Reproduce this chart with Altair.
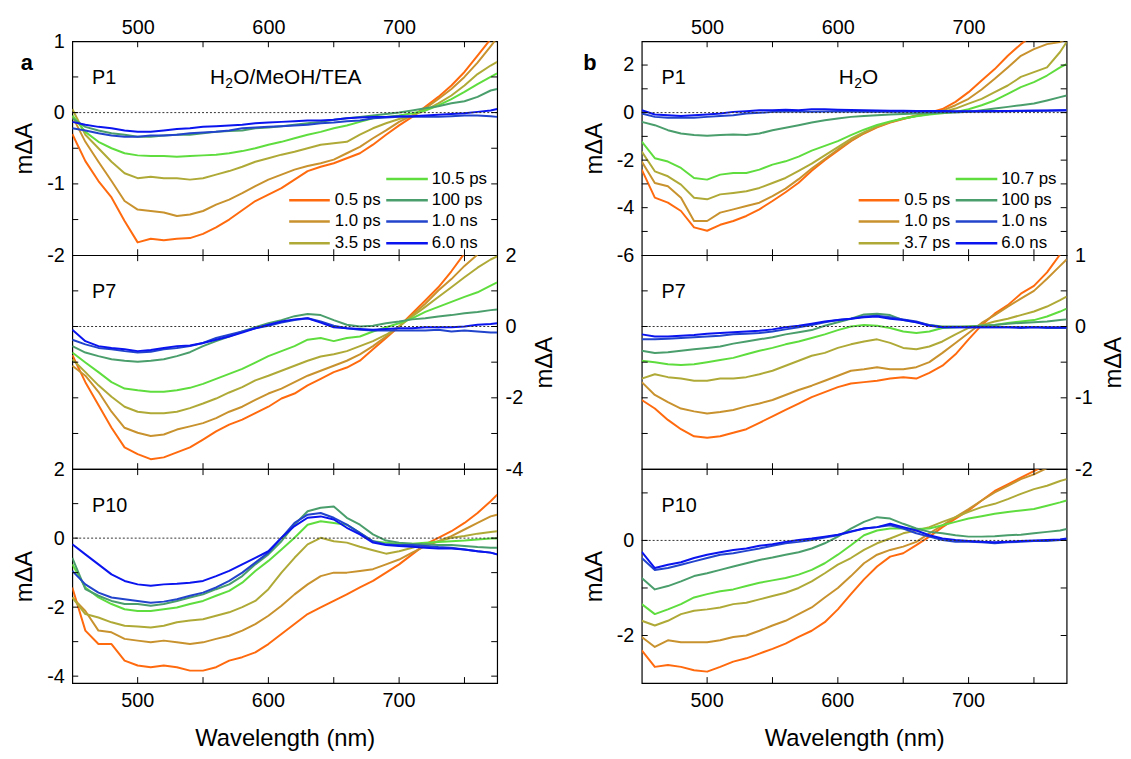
import altair as alt
import pandas as pd

FONT = "Liberation Sans"

# ---------------- data ----------------
WL = [450, 460, 470, 480, 490, 500, 510, 520, 530, 540, 550, 560, 570, 580, 590,
      600, 610, 620, 630, 640, 650, 660, 670, 680, 690, 700, 710, 720, 730, 740,
      750, 760, 770, 775]

LABELS_A = ["0.5 ps", "1.0 ps", "3.5 ps", "10.5 ps", "100 ps", "1.0 ns", "6.0 ns"]
LABELS_B = ["0.5 ps", "1.0 ps", "3.7 ps", "10.7 ps", "100 ps", "1.0 ns", "6.0 ns"]
COLORS = ["#FF6A0E", "#C8922E", "#AFAA37", "#5FDD3F", "#4A9E6C", "#2244CC", "#0A14EE"]

# panel a, P1 (H2O/MeOH/TEA)
A_P1 = [
    [-0.30, -0.68, -0.96, -1.19, -1.52, -1.82, -1.77, -1.79, -1.77, -1.76, -1.70, -1.61, -1.50, -1.37, -1.24,
     -1.15, -1.06, -0.94, -0.82, -0.76, -0.71, -0.64, -0.57, -0.45, -0.31, -0.18, -0.06, 0.08, 0.22, 0.38,
     0.57, 0.80, 1.03, 1.12],
    [-0.05, -0.41, -0.69, -0.96, -1.24, -1.36, -1.38, -1.40, -1.45, -1.43, -1.38, -1.29, -1.22, -1.13, -1.03,
     -0.94, -0.87, -0.80, -0.75, -0.71, -0.66, -0.57, -0.48, -0.36, -0.25, -0.13, -0.04, 0.06, 0.19, 0.33,
     0.50, 0.70, 0.93, 1.05],
    [0.05, -0.31, -0.50, -0.69, -0.85, -0.92, -0.90, -0.92, -0.92, -0.94, -0.92, -0.87, -0.82, -0.76, -0.69,
     -0.64, -0.59, -0.55, -0.50, -0.45, -0.43, -0.41, -0.31, -0.22, -0.15, -0.09, -0.04, 0.03, 0.13, 0.24,
     0.38, 0.54, 0.66, 0.71],
    [-0.04, -0.27, -0.41, -0.50, -0.57, -0.60, -0.61, -0.61, -0.62, -0.61, -0.60, -0.59, -0.57, -0.54, -0.50,
     -0.45, -0.41, -0.36, -0.31, -0.27, -0.22, -0.18, -0.13, -0.08, -0.06, -0.04, -0.01, 0.03, 0.10, 0.19,
     0.29, 0.40, 0.50, 0.55],
    [-0.08, -0.20, -0.25, -0.29, -0.31, -0.34, -0.34, -0.32, -0.31, -0.31, -0.29, -0.27, -0.26, -0.25, -0.22,
     -0.21, -0.19, -0.17, -0.15, -0.13, -0.10, -0.08, -0.06, -0.04, -0.02, 0.00, 0.03, 0.06, 0.09, 0.13,
     0.16, 0.22, 0.31, 0.33],
    [-0.22, -0.25, -0.29, -0.32, -0.34, -0.34, -0.32, -0.32, -0.31, -0.29, -0.28, -0.27, -0.25, -0.22, -0.21,
     -0.20, -0.19, -0.18, -0.17, -0.15, -0.14, -0.12, -0.11, -0.08, -0.07, -0.06, -0.06, -0.06, -0.06, -0.05,
     -0.04, -0.04, -0.05, -0.06],
    [-0.13, -0.17, -0.20, -0.22, -0.25, -0.27, -0.27, -0.25, -0.23, -0.22, -0.20, -0.19, -0.18, -0.17, -0.15,
     -0.14, -0.13, -0.12, -0.11, -0.11, -0.10, -0.08, -0.07, -0.06, -0.06, -0.05, -0.05, -0.04, -0.03, -0.02,
     -0.01, 0.01, 0.03, 0.05],
]

# panel a, P7
A_P7 = [
    [-0.80, -1.56, -2.20, -2.84, -3.39, -3.58, -3.72, -3.67, -3.53, -3.39, -3.17, -2.94, -2.75, -2.61, -2.43,
     -2.25, -2.02, -1.88, -1.65, -1.47, -1.28, -1.15, -0.96, -0.64, -0.32, 0.00, 0.37, 0.73, 1.10, 1.55,
     2.05, 2.40, 2.75, 2.90],
    [-1.10, -1.38, -1.83, -2.39, -2.84, -2.98, -3.07, -3.03, -2.89, -2.80, -2.71, -2.57, -2.39, -2.25, -2.06,
     -1.88, -1.74, -1.56, -1.38, -1.24, -1.10, -0.96, -0.78, -0.55, -0.28, 0.00, 0.32, 0.64, 1.01, 1.33,
     1.70, 2.02, 2.35, 2.50],
    [-0.92, -1.28, -1.65, -1.97, -2.25, -2.39, -2.43, -2.43, -2.39, -2.29, -2.16, -2.02, -1.85, -1.70, -1.51,
     -1.38, -1.24, -1.10, -0.96, -0.84, -0.78, -0.69, -0.55, -0.41, -0.23, 0.00, 0.28, 0.55, 0.83, 1.10,
     1.38, 1.65, 1.88, 1.97],
    [-0.73, -1.01, -1.28, -1.56, -1.74, -1.79, -1.83, -1.83, -1.79, -1.72, -1.61, -1.47, -1.33, -1.19, -1.01,
     -0.83, -0.69, -0.55, -0.37, -0.32, -0.41, -0.32, -0.28, -0.14, -0.02, 0.09, 0.23, 0.41, 0.55, 0.69,
     0.83, 0.96, 1.15, 1.24],
    [-0.55, -0.73, -0.83, -0.92, -0.96, -0.99, -0.96, -0.92, -0.83, -0.72, -0.55, -0.41, -0.28, -0.14, -0.02,
     0.09, 0.18, 0.29, 0.35, 0.32, 0.18, 0.05, 0.00, 0.02, 0.09, 0.14, 0.20, 0.23, 0.28, 0.32,
     0.37, 0.41, 0.46, 0.48],
    [-0.37, -0.50, -0.60, -0.64, -0.69, -0.73, -0.71, -0.64, -0.60, -0.55, -0.46, -0.32, -0.23, -0.14, -0.05,
     0.02, 0.11, 0.18, 0.23, 0.14, 0.02, -0.05, -0.09, -0.11, -0.11, -0.11, -0.11, -0.11, -0.09, -0.14,
     -0.11, -0.14, -0.17, -0.17],
    [-0.09, -0.41, -0.55, -0.60, -0.64, -0.69, -0.66, -0.60, -0.55, -0.53, -0.46, -0.37, -0.28, -0.17, -0.05,
     0.05, 0.14, 0.20, 0.23, 0.11, -0.02, -0.05, -0.07, -0.09, -0.07, -0.05, -0.05, -0.02, -0.02, -0.02,
     0.00, 0.05, 0.07, 0.09],
]

# panel a, P10
A_P10 = [
    [-1.43, -2.68, -3.07, -3.07, -3.55, -3.69, -3.74, -3.69, -3.74, -3.84, -3.84, -3.74, -3.55, -3.45, -3.31,
     -3.07, -2.78, -2.49, -2.20, -2.01, -1.82, -1.63, -1.43, -1.24, -1.00, -0.76, -0.47, -0.18, 0.01, 0.20,
     0.44, 0.73, 1.07, 1.26],
    [-1.72, -2.11, -2.68, -2.73, -2.92, -2.97, -3.02, -2.97, -3.02, -3.07, -3.02, -2.92, -2.83, -2.68, -2.49,
     -2.25, -1.96, -1.63, -1.34, -1.10, -1.00, -1.00, -0.95, -0.90, -0.76, -0.62, -0.42, -0.23, -0.09, 0.06,
     0.25, 0.44, 0.63, 0.68],
    [-1.72, -2.20, -2.30, -2.44, -2.54, -2.56, -2.59, -2.54, -2.44, -2.39, -2.35, -2.25, -2.15, -2.00, -1.82,
     -1.48, -1.00, -0.57, -0.18, 0.01, -0.09, -0.13, -0.25, -0.35, -0.45, -0.38, -0.28, -0.18, -0.09, 0.01,
     0.06, 0.13, 0.18, 0.20],
    [-0.76, -1.43, -1.72, -1.91, -2.06, -2.11, -2.11, -2.06, -2.01, -1.91, -1.82, -1.67, -1.53, -1.29, -0.95,
     -0.66, -0.33, 0.01, 0.39, 0.49, 0.44, 0.39, 0.15, -0.09, -0.13, -0.16, -0.16, -0.13, -0.11, -0.09,
     -0.07, -0.04, -0.01, -0.01],
    [-0.57, -1.48, -1.67, -1.82, -1.91, -1.91, -1.96, -1.91, -1.82, -1.72, -1.63, -1.48, -1.34, -1.10, -0.76,
     -0.47, -0.09, 0.39, 0.78, 0.88, 0.92, 0.59, 0.39, 0.11, -0.07, -0.13, -0.16, -0.18, -0.20, -0.20,
     -0.23, -0.26, -0.28, -0.28],
    [-0.95, -1.34, -1.58, -1.72, -1.77, -1.82, -1.87, -1.84, -1.77, -1.67, -1.58, -1.43, -1.24, -1.00, -0.71,
     -0.42, 0.01, 0.44, 0.68, 0.73, 0.59, 0.39, 0.15, -0.09, -0.18, -0.20, -0.20, -0.23, -0.26, -0.28,
     -0.33, -0.38, -0.42, -0.47],
    [-0.18, -0.47, -0.76, -1.05, -1.24, -1.34, -1.38, -1.34, -1.32, -1.29, -1.24, -1.10, -0.95, -0.76, -0.57,
     -0.38, 0.01, 0.35, 0.59, 0.63, 0.54, 0.30, 0.11, -0.13, -0.20, -0.23, -0.25, -0.28, -0.30, -0.30,
     -0.33, -0.38, -0.42, -0.47],
]

# panel b, P1 (H2O)
B_P1 = [
    [-2.40, -3.58, -3.79, -4.14, -4.83, -4.97, -4.72, -4.56, -4.35, -4.07, -3.72, -3.35, -2.95, -2.45, -2.00,
     -1.60, -1.20, -0.88, -0.62, -0.42, -0.27, -0.13, 0.00, 0.15, 0.45, 0.86, 1.35, 1.83, 2.39, 2.88,
     3.30, 3.70, 4.10, 4.30],
    [-2.06, -2.96, -3.10, -3.58, -4.56, -4.56, -4.21, -4.07, -3.93, -3.79, -3.51, -3.20, -2.80, -2.35, -1.95,
     -1.55, -1.18, -0.86, -0.60, -0.40, -0.25, -0.12, -0.02, 0.08, 0.31, 0.58, 0.97, 1.42, 1.90, 2.39,
     2.67, 2.88, 2.97, 3.10],
    [-1.64, -2.47, -2.68, -3.03, -3.58, -3.65, -3.44, -3.38, -3.31, -3.17, -2.96, -2.75, -2.45, -2.15, -1.80,
     -1.45, -1.10, -0.82, -0.58, -0.40, -0.25, -0.14, -0.06, 0.02, 0.17, 0.38, 0.58, 0.86, 1.14, 1.50,
     1.70, 1.90, 2.55, 2.97],
    [-1.22, -1.92, -2.06, -2.33, -2.75, -2.82, -2.61, -2.54, -2.54, -2.40, -2.19, -2.05, -1.85, -1.60, -1.40,
     -1.20, -0.95, -0.72, -0.52, -0.37, -0.25, -0.15, -0.08, -0.03, 0.03, 0.14, 0.31, 0.51, 0.79, 1.07,
     1.28, 1.56, 1.90, 2.04],
    [-0.39, -0.53, -0.74, -0.88, -0.94, -0.97, -0.94, -0.92, -0.94, -0.88, -0.74, -0.64, -0.53, -0.42, -0.32,
     -0.25, -0.18, -0.14, -0.11, -0.08, -0.06, -0.04, -0.03, -0.01, 0.00, 0.03, 0.10, 0.17, 0.24, 0.31,
     0.38, 0.51, 0.65, 0.72],
    [-0.04, -0.18, -0.22, -0.22, -0.22, -0.18, -0.14, -0.11, -0.04, -0.01, 0.03, 0.05, 0.05, 0.04, 0.05,
     0.06, 0.05, 0.04, 0.05, 0.04, 0.04, 0.03, 0.04, 0.05, 0.04, 0.05, 0.06, 0.05, 0.06, 0.07,
     0.07, 0.08, 0.09, 0.10],
    [0.10, -0.08, -0.11, -0.14, -0.11, -0.08, -0.04, 0.03, 0.06, 0.10, 0.10, 0.12, 0.10, 0.14, 0.14,
     0.12, 0.11, 0.10, 0.09, 0.08, 0.08, 0.07, 0.07, 0.07, 0.06, 0.06, 0.06, 0.07, 0.07, 0.08,
     0.09, 0.09, 0.10, 0.10],
]

# panel b, P7
B_P7 = [
    [-1.03, -1.15, -1.31, -1.44, -1.54, -1.56, -1.54, -1.49, -1.44, -1.35, -1.26, -1.17, -1.08, -0.99, -0.92,
     -0.85, -0.80, -0.78, -0.76, -0.73, -0.71, -0.73, -0.65, -0.55, -0.39, -0.18, 0.02, 0.18, 0.30, 0.46,
     0.57, 0.76, 1.01, 1.10],
    [-0.78, -0.96, -1.06, -1.15, -1.19, -1.22, -1.20, -1.17, -1.12, -1.08, -1.03, -0.96, -0.89, -0.83, -0.76,
     -0.69, -0.62, -0.60, -0.57, -0.60, -0.60, -0.57, -0.50, -0.37, -0.23, -0.09, 0.05, 0.16, 0.28, 0.39,
     0.50, 0.67, 0.85, 0.94],
    [-0.73, -0.67, -0.71, -0.73, -0.76, -0.76, -0.73, -0.73, -0.71, -0.67, -0.62, -0.55, -0.48, -0.41, -0.37,
     -0.30, -0.25, -0.21, -0.18, -0.23, -0.30, -0.32, -0.28, -0.21, -0.11, -0.02, 0.02, 0.07, 0.11, 0.16,
     0.21, 0.28, 0.37, 0.42],
    [-0.48, -0.50, -0.53, -0.54, -0.53, -0.50, -0.47, -0.44, -0.39, -0.34, -0.30, -0.25, -0.21, -0.16, -0.11,
     -0.05, 0.00, 0.02, 0.01, -0.02, -0.07, -0.09, -0.07, -0.02, -0.01, 0.00, 0.01, 0.02, 0.05, 0.07,
     0.09, 0.14, 0.21, 0.25],
    [-0.34, -0.37, -0.36, -0.34, -0.32, -0.30, -0.28, -0.24, -0.21, -0.18, -0.15, -0.11, -0.08, -0.05, 0.01,
     0.06, 0.11, 0.17, 0.18, 0.16, 0.09, 0.06, 0.02, 0.00, 0.00, 0.00, 0.01, 0.02, 0.04, 0.05,
     0.06, 0.07, 0.09, 0.10],
    [-0.18, -0.18, -0.17, -0.16, -0.15, -0.14, -0.13, -0.11, -0.10, -0.09, -0.07, -0.04, -0.01, 0.02, 0.06,
     0.09, 0.11, 0.14, 0.15, 0.13, 0.10, 0.07, 0.02, -0.01, -0.01, -0.01, -0.01, -0.01, -0.01, -0.02,
     -0.01, -0.02, -0.02, -0.02],
    [-0.11, -0.14, -0.14, -0.13, -0.12, -0.10, -0.09, -0.08, -0.07, -0.06, -0.04, -0.01, 0.01, 0.04, 0.07,
     0.09, 0.11, 0.13, 0.14, 0.11, 0.09, 0.06, 0.01, -0.01, -0.01, -0.01, -0.01, -0.01, -0.01, -0.01,
     -0.01, -0.01, -0.01, -0.01],
]

# panel b, P10
B_P10 = [
    [-2.31, -2.66, -2.62, -2.66, -2.73, -2.76, -2.66, -2.55, -2.48, -2.38, -2.28, -2.17, -2.03, -1.90, -1.72,
     -1.45, -1.13, -0.82, -0.55, -0.34, -0.27, -0.10, 0.08, 0.28, 0.46, 0.63, 0.84, 1.04, 1.18, 1.32,
     1.46, 1.60, 1.75, 1.82],
    [-2.03, -2.24, -2.10, -2.14, -2.14, -2.14, -2.10, -2.03, -2.00, -1.90, -1.79, -1.69, -1.55, -1.41, -1.20,
     -1.00, -0.75, -0.48, -0.30, -0.20, -0.13, -0.03, 0.15, 0.32, 0.49, 0.66, 0.84, 1.01, 1.15, 1.29,
     1.39, 1.52, 1.65, 1.72],
    [-1.69, -1.79, -1.69, -1.55, -1.48, -1.45, -1.41, -1.34, -1.31, -1.24, -1.17, -1.10, -1.00, -0.86, -0.69,
     -0.51, -0.37, -0.20, -0.06, 0.04, 0.15, 0.21, 0.28, 0.39, 0.49, 0.60, 0.70, 0.77, 0.87, 0.98,
     1.08, 1.15, 1.25, 1.29],
    [-1.34, -1.55, -1.45, -1.34, -1.20, -1.13, -1.07, -1.03, -0.96, -0.89, -0.84, -0.79, -0.72, -0.62, -0.48,
     -0.30, -0.10, 0.11, 0.21, 0.25, 0.25, 0.24, 0.25, 0.32, 0.39, 0.46, 0.51, 0.56, 0.60, 0.63,
     0.66, 0.73, 0.80, 0.84],
    [-0.79, -1.03, -0.96, -0.86, -0.75, -0.69, -0.62, -0.55, -0.48, -0.41, -0.36, -0.30, -0.25, -0.17, -0.06,
     0.08, 0.25, 0.39, 0.49, 0.46, 0.35, 0.25, 0.18, 0.15, 0.11, 0.08, 0.08, 0.09, 0.11, 0.12,
     0.15, 0.18, 0.21, 0.24],
    [-0.37, -0.62, -0.58, -0.51, -0.44, -0.37, -0.30, -0.27, -0.22, -0.17, -0.11, -0.06, -0.03, 0.01, 0.06,
     0.11, 0.18, 0.25, 0.28, 0.32, 0.25, 0.15, 0.08, 0.01, -0.03, -0.03, -0.04, -0.06, -0.04, -0.03,
     -0.01, -0.01, 0.01, 0.03],
    [-0.24, -0.58, -0.51, -0.46, -0.37, -0.30, -0.25, -0.20, -0.17, -0.11, -0.08, -0.03, 0.01, 0.04, 0.08,
     0.12, 0.19, 0.25, 0.28, 0.35, 0.28, 0.21, 0.11, 0.04, 0.01, -0.01, -0.03, -0.04, -0.03, -0.01,
     0.00, 0.01, 0.02, 0.04],
]

X_TICKS = [500, 550, 600, 650, 700, 750]
X_LABELS = [500, 600, 700]

# ---------------- layout ----------------
W, H = 429, 216
XDOM = [450, 775]
KEYS = [f"k{i}" for i in range(7)]
TICK = 6


def color_enc():
    return alt.Color("key:N", scale=alt.Scale(domain=KEYS, range=COLORS), legend=None)


def xs(field="wl", axis=None):
    return alt.X(f"{field}:Q", scale=alt.Scale(domain=XDOM, nice=False, zero=False), axis=axis)


def panel(series, ydom, yticks, ylabels, yorient, xorient, tag,
          labels=None, solvent=None, solvent_x=0, letter=None, letter_x=0):
    yscale = alt.Scale(domain=ydom, nice=False, zero=False)
    rows = []
    for k, s in enumerate(series):
        for w, v in zip(WL, s):
            rows.append({"wl": w, "val": v, "key": KEYS[k]})
    df = pd.DataFrame(rows)

    yaxis = alt.Axis(orient=yorient, values=ylabels, ticks=False, domain=False, grid=False,
                     labelFontSize=20, labelPadding=8, labelFlush=False, labelOverlap=False,
                     labelExpr="'' + datum.value", title="m\u0394A", titleFontSize=24,
                     titleFontWeight="normal", titlePadding=10, titleAngle=270,
                     titleBaseline="top" if yorient == "right" else "bottom")
    if xorient == "top":
        xaxis = alt.Axis(orient="top", values=X_LABELS, ticks=False, domain=False, grid=False,
                         labelFontSize=20, labelPadding=4, labelFlush=False, labelOverlap=False,
                         title=None)
    elif xorient == "bottom":
        # tick labels are drawn as a text layer below; the axis carries the title only
        xaxis = alt.Axis(orient="bottom", values=X_LABELS, ticks=False, domain=False, grid=False,
                         labels=False, title="Wavelength (nm)", titleFontSize=24,
                         titleFontWeight="normal", titlePadding=44)
    else:
        xaxis = None

    zero = alt.Chart(pd.DataFrame({"val": [0]})).mark_rule(
        color="#333333", strokeDash=[2, 2], strokeWidth=1
    ).encode(y=alt.Y("val:Q", scale=yscale, axis=None))

    lines = alt.Chart(df).mark_line(clip=True, strokeWidth=2, strokeJoin="round").encode(
        x=xs("wl", xaxis), y=alt.Y("val:Q", scale=yscale, axis=yaxis), color=color_enc()
    )

    ydf = pd.DataFrame({"val": yticks})
    xdf = pd.DataFrame({"wl": X_TICKS})
    tick_l = alt.Chart(ydf).mark_rule(color="black", strokeWidth=1).encode(
        y=alt.Y("val:Q", scale=yscale, axis=None), x=alt.value(0), x2=alt.value(TICK))
    tick_r = alt.Chart(ydf).mark_rule(color="black", strokeWidth=1).encode(
        y=alt.Y("val:Q", scale=yscale, axis=None), x=alt.value(W - TICK), x2=alt.value(W))
    tick_t = alt.Chart(xdf).mark_rule(color="black", strokeWidth=1).encode(
        x=xs(), y=alt.value(0), y2=alt.value(TICK))
    tick_b = alt.Chart(xdf).mark_rule(color="black", strokeWidth=1).encode(
        x=xs(), y=alt.value(H - TICK), y2=alt.value(H))

    tag_txt = alt.Chart(pd.DataFrame({"t": [tag]})).mark_text(
        align="left", baseline="middle", fontSize=20, font=FONT, color="black"
    ).encode(x=alt.value(20), y=alt.value(37), text="t:N")

    layers = [lines, zero, tick_l, tick_r, tick_t, tick_b, tag_txt]

    if xorient == "bottom":
        layers.append(alt.Chart(pd.DataFrame({"wl": X_LABELS})).mark_text(
            align="center", baseline="middle", fontSize=20, font=FONT, color="black"
        ).encode(x=xs(), y=alt.value(H + 18), text=alt.Text("wl:Q", format="d")))

    if solvent is not None:
        head, tail = solvent
        layers.append(alt.Chart(pd.DataFrame({"t": ["H"]})).mark_text(
            align="left", baseline="middle", fontSize=21, font=FONT, color="black"
        ).encode(x=alt.value(solvent_x), y=alt.value(37), text="t:N"))
        layers.append(alt.Chart(pd.DataFrame({"t": [head]})).mark_text(
            align="left", baseline="middle", fontSize=14, font=FONT, color="black"
        ).encode(x=alt.value(solvent_x + 15.5), y=alt.value(43), text="t:N"))
        layers.append(alt.Chart(pd.DataFrame({"t": [tail]})).mark_text(
            align="left", baseline="middle", fontSize=21, font=FONT, color="black"
        ).encode(x=alt.value(solvent_x + 23.5), y=alt.value(37), text="t:N"))

    if letter is not None:
        layers.append(alt.Chart(pd.DataFrame({"t": [letter]})).mark_text(
            align="left", baseline="middle", fontSize=22, font=FONT, fontWeight="bold", color="black"
        ).encode(x=alt.value(letter_x), y=alt.value(22), text="t:N"))

    if labels is not None:
        # legend: two columns, second column starts one row higher
        slots = [(0, 1), (0, 2), (0, 3), (1, 0), (1, 1), (1, 2), (1, 3)]
        col_line = [(219, 260, 265), (317, 359, 363)]
        row_y = [139, 160.5, 182, 204]
        lrows = []
        for i, (c, r) in enumerate(slots):
            x1, x2, xt = col_line[c]
            yy = ydom[1] - row_y[r] / H * (ydom[1] - ydom[0])
            lrows.append({
                "key": KEYS[i], "label": labels[i],
                "wl": XDOM[0] + x1 / W * (XDOM[1] - XDOM[0]),
                "wl2": XDOM[0] + x2 / W * (XDOM[1] - XDOM[0]),
                "wlt": XDOM[0] + xt / W * (XDOM[1] - XDOM[0]),
                "val": yy,
            })
        ldf = pd.DataFrame(lrows)
        layers.append(alt.Chart(ldf).mark_rule(strokeWidth=2.5).encode(
            x=xs(), x2="wl2:Q", y=alt.Y("val:Q", scale=yscale, axis=None), color=color_enc()))
        layers.append(alt.Chart(ldf).mark_text(
            align="left", baseline="middle", fontSize=17, font=FONT, color="black"
        ).encode(x=xs("wlt"), y=alt.Y("val:Q", scale=yscale, axis=None), text="label:N"))

    return alt.layer(*layers).resolve_axis(x="independent", y="independent").properties(width=W, height=H)


colA = alt.vconcat(
    panel(A_P1, [-2, 1], [-1.5, -1, -0.5, 0, 0.5], [-2, -1, 0, 1], "left", "top", "P1",
          labels=LABELS_A, solvent=("2", "O/MeOH/TEA"), solvent_x=139, letter="a", letter_x=-52),
    panel(A_P7, [-4, 2], [-3, -2, -1, 0, 1], [-4, -2, 0, 2], "right", None, "P7"),
    panel(A_P10, [-4.2, 2], [-4, -3, -2, -1, 0, 1], [-4, -2, 0, 2], "left", "bottom", "P10"),
    spacing=0, bounds="flush",
)

colB = alt.vconcat(
    panel(B_P1, [-6, 3], [-5, -4, -3, -2, -1, 0, 1, 2], [-6, -4, -2, 0, 2], "left", "top", "P1",
          labels=LABELS_B, solvent=("2", "O"), solvent_x=199, letter="b", letter_x=-59),
    panel(B_P7, [-2, 1], [-1.5, -1, -0.5, 0, 0.5], [-2, -1, 0, 1], "right", None, "P7"),
    panel(B_P10, [-3, 1.5], [-2, -1, 0, 1], [-2, 0], "left", "bottom", "P10"),
    spacing=0, bounds="flush",
)

chart = alt.hconcat(colA, colB, spacing=24).configure_view(
    stroke="black", strokeWidth=1.2
).configure_axis(
    labelFont=FONT, titleFont=FONT, labelColor="black", titleColor="black"
).properties(padding={"left": 12, "top": 13, "right": 4, "bottom": 4}, background="white")

chart.save("out.html", embed_options={"renderer": "svg", "actions": False})
